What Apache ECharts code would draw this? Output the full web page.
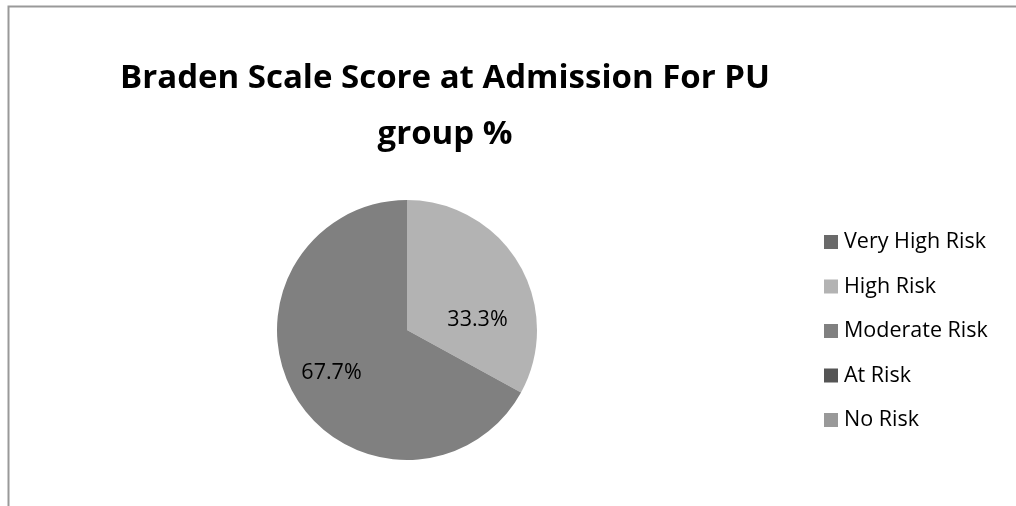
<!DOCTYPE html>
<html>
<head>
<meta charset="utf-8">
<script src="https://cdn.jsdelivr.net/npm/echarts@6/dist/echarts.min.js"></script>
<style>
  html, body { margin: 0; padding: 0; background: #fff; }
  #chart { width: 1016px; height: 506px; }
</style>
</head>
<body>
<div id="chart"></div>
<script>
// Braden scale categories and their share of the PU group (%)
const categories = ['Very High Risk', 'High Risk', 'Moderate Risk', 'At Risk', 'No Risk'];
const shares = [0, 33.3, 67.7, 0, 0];
const sliceColors = ['#6a6a6a', '#b3b3b3', '#808080', '#555555', '#999999'];
// label nudges so the percentages sit where they read best inside each slice
const labelOffsets = [[0, 0], [12, 25], [-17, 8], [0, 0], [0, 0]];

const chart = echarts.init(document.getElementById('chart'), null, { renderer: 'canvas' });

const pieData = categories.map((name, i) => ({
  name: name,
  value: shares[i],
  itemStyle: { color: sliceColors[i] },
  label: { offset: labelOffsets[i] }
}));

chart.setOption({
  animation: false,
  backgroundColor: '#ffffff',
  title: {
    text: 'Braden Scale Score at Admission For PU\ngroup %',
    left: 440,
    textAlign: 'center',
    top: 46,
    textStyle: {
      fontFamily: 'Open Sans',
      fontWeight: 'bold',
      fontSize: 33,
      lineHeight: 56,
      color: '#000'
    }
  },
  legend: {
    orient: 'vertical',
    left: 819,
    top: 226,
    itemWidth: 14,
    itemHeight: 14,
    itemGap: 22.5,
    icon: 'rect',
    textStyle: { fontFamily: 'Open Sans', fontSize: 21.5, lineHeight: 22, color: '#000', padding: [0, 0, 0, 1] },
    data: categories
  },
  graphic: [{
    type: 'rect',
    shape: { x: 8.5, y: 6.5, width: 1100, height: 600 },
    style: { fill: null, stroke: '#999', lineWidth: 2 },
    silent: true
  }],
  series: [{
    type: 'pie',
    center: [407, 330],
    radius: [0, 130],
    startAngle: 90,
    clockwise: true,
    avoidLabelOverlap: false,
    stillShowZeroSum: true,
    label: {
      show: true,
      position: 'inside',
      fontFamily: 'Open Sans',
      fontSize: 21.5,
      color: '#000',
      formatter: p => (p.value > 0 ? p.value.toFixed(1) + '%' : '')
    },
    labelLine: { show: false },
    itemStyle: { borderWidth: 0 },
    emphasis: { disabled: true },
    data: pieData
  }]
});
</script>
</body>
</html>
